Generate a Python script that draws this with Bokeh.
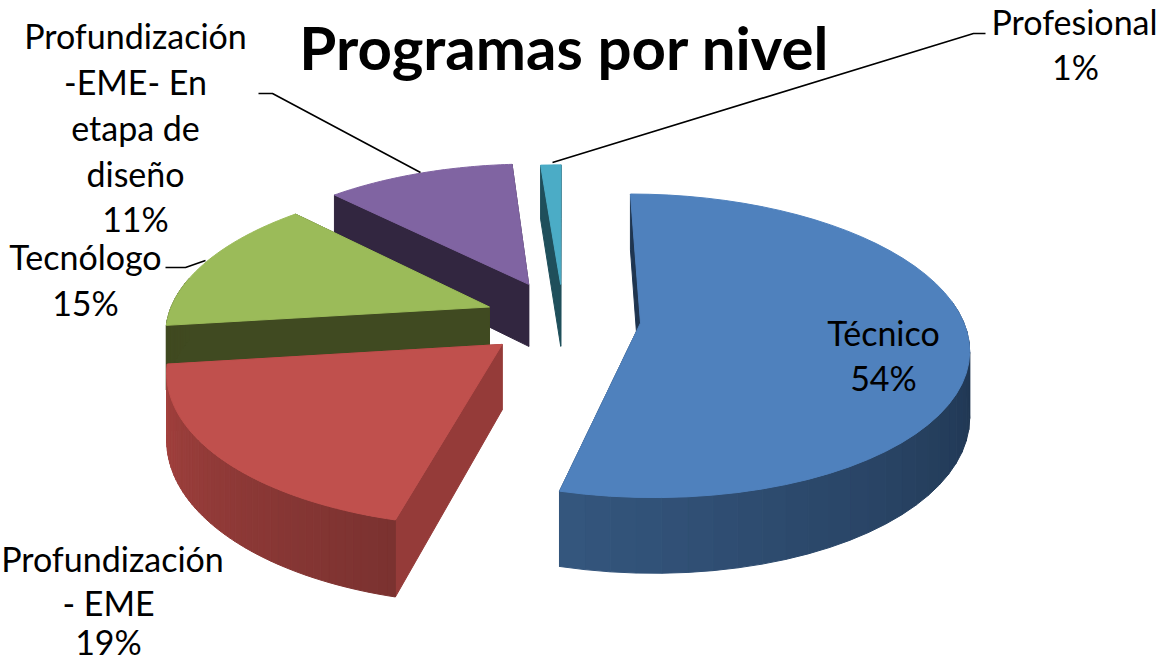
import math
from bokeh.plotting import figure
from bokeh.models import Range1d
from bokeh.core.properties import value
from bokeh.embed import file_html
from bokeh.resources import INLINE

# data
categories = ["Técnico", "Profundización - EME", "Tecnólogo", "Profundización -EME- En etapa de diseño", "Profesional"]
shares = [54, 19, 14.7, 11.1, 1.2]
top_colors = ["#4F81BD", "#C0504D", "#9BBB59", "#8064A2", "#4BACC6"]
cut_colors = ["#1F3550", "#953B39", "#404A21", "#322640", "#1F4F5B"]
wall_dark = ["#1B2F48", "#7B3230", "#404A21", "#322640", "#1F4F5B"]
wall_light = ["#35577F", "#A6423F", "#404A21", "#322640", "#1F4F5B"]

# projection
CX, CY, SX, SY, K, DEPTH, EXPLODE = 563, 318, 322, 147, 0.15, 64, 0.24
NUDGE = [(0, 0), (-2, 2), (-2, 0), (-4, -3), (0, 0)]
N = 50

def proj(u, v, z=0):
    w = 1 - K * v
    return CX + SX * u / w, CY + (SY * v + DEPTH * z) / w

def mix(c1, c2, t):
    a = [int(c1[i:i+2], 16) for i in (1, 3, 5)]
    b = [int(c2[i:i+2], 16) for i in (1, 3, 5)]
    return "#%02x%02x%02x" % tuple(round(a[i] + (b[i] - a[i]) * t) for i in range(3))

p = figure(width=1163, height=664, x_range=Range1d(0, 1163), y_range=Range1d(664, 0),
           output_backend="svg", toolbar_location=None, min_border=0, outline_line_color=None)
p.xaxis.visible = False
p.yaxis.visible = False
p.grid.visible = False

total = sum(shares)
bounds = [0]
for s in shares:
    bounds.append(bounds[-1] + s / total * 2 * math.pi)

def poly(pts, color, nudge):
    p.patch([q[0] + nudge[0] for q in pts], [q[1] + nudge[1] for q in pts],
            fill_color=color, line_color=color, line_width=1)

for i in [4, 3, 2, 1, 0]:
    a0, a1 = bounds[i], bounds[i + 1]
    mid = (a0 + a1) / 2
    ox, oy = EXPLODE * math.sin(mid), -EXPLODE * math.cos(mid)
    pt = lambda a, r, z=0: proj(ox + r * math.sin(a), oy - r * math.cos(a), z)
    for a in (a1, a0):
        poly([pt(a, 0), pt(a, 1), pt(a, 1, 1), pt(a, 0, 1)], cut_colors[i], NUDGE[i])
    angs = [a0 + (a1 - a0) * j / N for j in range(N + 1)]
    vis = [j for j in range(N) if -math.cos(angs[j]) > -0.2]
    for j in vis:
        ta = angs[j]
        t = min(1, max(0, (ta - a0) / (a1 - a0)))
        if i == 0:
            t = max(0, (ta - math.radians(80)) / (a1 - math.radians(80)))
        c = mix(wall_dark[i], wall_light[i], t)
        poly([pt(angs[j], 1), pt(angs[j + 1], 1), pt(angs[j + 1], 1, 1), pt(angs[j], 1, 1)], c, NUDGE[i])
    poly([pt(a0, 0)] + [pt(a, 1) for a in angs], top_colors[i], NUDGE[i])

# leader lines
leaders = [([985, 973, 552], [33, 33, 162]), ([258, 272, 420], [93, 93, 172]), ([165, 185, 205], [267, 267, 260])]
for lx, ly in leaders:
    p.line(lx, ly, line_color="black", line_width=1.6)

FONT = value("Lato")
labels = [("Profesional", 1074, 21), ("1%", 1075, 66),
          ("Profundización", 135, 35), ("-EME- En", 135, 81), ("etapa de", 135, 127), ("diseño", 135, 173), ("11%", 135, 218),
          ("Tecnólogo", 85, 256), ("15%", 85, 302),
          ("Técnico", 883, 332), ("54%", 883, 377),
          ("Profundización", 112, 558), ("- EME", 108, 602), ("19%", 108, 641)]
for t, x, y in labels:
    p.text([x], [y], text=[t], text_font=FONT, text_font_size="34px", text_align="center",
           text_baseline="middle", text_color="black")
p.text([564], [46], text=["Programas por nivel"], text_font=FONT, text_font_size="60px", text_font_style="bold",
       text_align="center", text_baseline="middle", text_color="black")

open("out.html", "w").write(file_html(p, INLINE))
